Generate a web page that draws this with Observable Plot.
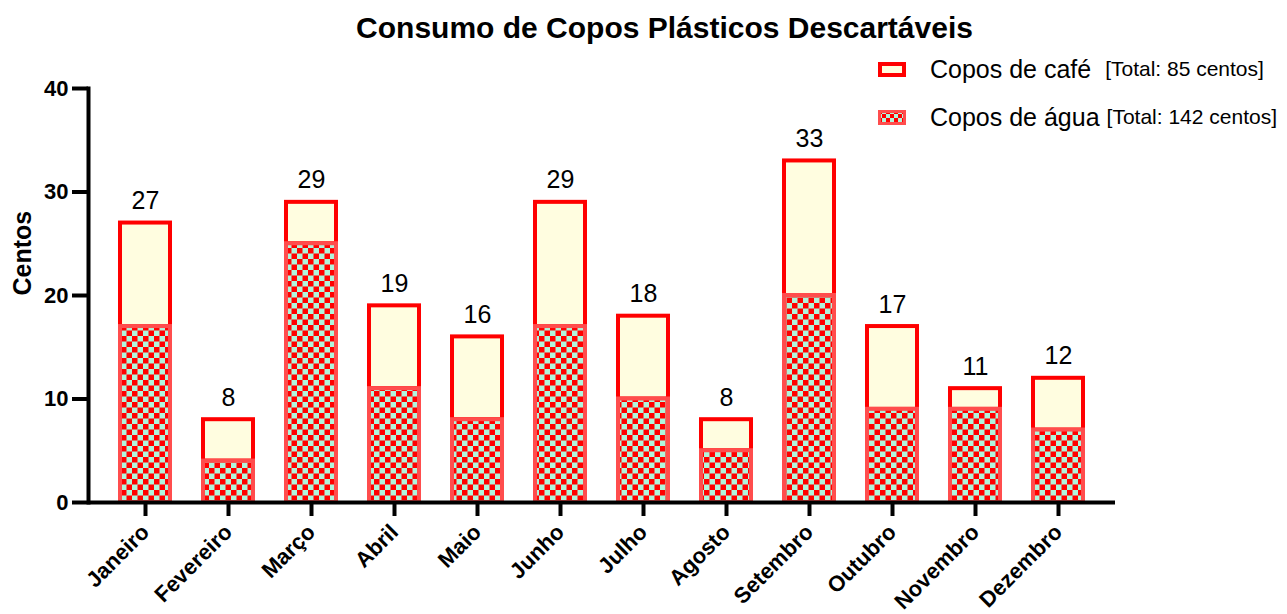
<!DOCTYPE html>
<html>
<head>
<meta charset="utf-8">
<script src="https://cdn.jsdelivr.net/npm/d3@7"></script>
<script src="https://cdn.jsdelivr.net/npm/@observablehq/plot@0.6"></script>
<style>
  html, body { margin: 0; padding: 0; background: #fff; }
  body { width: 1287px; height: 614px; overflow: hidden; font-family: "Liberation Sans", Arial, sans-serif; }
  #title { height: 50px; line-height: 56px; font-size: 30px; font-weight: bold; text-align: center; padding-left: 42px; color: #000; overflow: visible; }
  #wrap { position: relative; width: 1287px; height: 564px; }
  #legend { position: absolute; left: 878px; top: 0px; font-size: 25px; color: #000; }
  .row { position: absolute; white-space: nowrap; display: flex; align-items: center; height: 30px; }
  .small { font-size: 21px; }
</style>
</head>
<body>
<div id="title">Consumo de Copos Plásticos Descartáveis</div>
<div id="wrap">
  <div id="chart"></div>
  <div id="legend">
    <div class="row" style="top:4px;left:0"><svg width="28" height="15" style="margin-right:24px"><rect x="2" y="2" width="24" height="11" fill="#fffde0" stroke="#ff0000" stroke-width="4"/></svg><span>Copos de café</span>&nbsp;&nbsp;<span class="small">[Total: 85 centos]</span></div>
    <div class="row" style="top:52px;left:0"><svg width="28" height="15" style="margin-right:24px"><rect x="1.5" y="1.5" width="25" height="12" fill="url(#checkLeg)" stroke="#ff4d4d" stroke-width="3"/></svg><span>Copos de água</span>&nbsp;<span class="small">[Total: 142 centos]</span></div>
  </div>
</div>
<script>
const months = ["Janeiro","Fevereiro","Março","Abril","Maio","Junho","Julho","Agosto","Setembro","Outubro","Novembro","Dezembro"];
const agua = [17, 4, 25, 11, 8, 17, 10, 5, 20, 9, 9, 7];
const cafe = [10, 4, 4, 8, 8, 12, 8, 3, 13, 8, 2, 5];
const yTicks = [0, 10, 20, 30, 40];

const rows = months.map((m, i) => ({month: m, agua: agua[i], cafe: cafe[i], total: agua[i] + cafe[i]}));

const chart = Plot.plot({
  width: 1287,
  height: 564,
  marginLeft: 88,
  marginRight: 172,
  marginTop: 38,
  marginBottom: 112,
  style: {fontFamily: "'Liberation Sans', Arial, sans-serif", color: "#000", background: "#fff"},
  x: {domain: months, paddingInner: 0.4, paddingOuter: 0.35, label: null},
  y: {domain: [0, 40], label: null},
  marks: [
    Plot.barY(rows, {x: "month", y1: "agua", y2: "total", fill: "#fffde0", stroke: "#ff0000", strokeWidth: 4, inset: 0}),
    Plot.barY(rows, {x: "month", y1: 0, y2: "agua", fill: "url(#checker)", stroke: "#ff4d4d", strokeWidth: 4, inset: 0}),
    Plot.text(rows, {x: "month", y: "total", text: d => String(d.total), dy: -14, lineAnchor: "bottom", fontSize: 25, fill: "#000"}),
    Plot.axisY({ticks: yTicks, tickSize: 16, tickPadding: 4, strokeWidth: 4, fontSize: 22, fontWeight: "bold", label: null}),
    Plot.axisX({tickSize: 14, tickPadding: 12, strokeWidth: 4, fontSize: 22, fontWeight: "bold", tickRotate: -45, label: null}),
    Plot.frame({anchor: "left", strokeWidth: 4, stroke: "#000"}),
    Plot.ruleY([0], {strokeWidth: 4, stroke: "#000"}),
    Plot.text(["Centos"], {frameAnchor: "left", dx: -66, rotate: -90, fontSize: 25, fontWeight: "bold", fill: "#000"})
  ]
});

// checker pattern definitions
const defs = d3.select(chart).insert("defs", ":first-child");
function addPattern(id, s) {
  const p = defs.append("pattern").attr("id", id).attr("patternUnits", "userSpaceOnUse")
    .attr("width", 2 * s).attr("height", 2 * s);
  p.append("rect").attr("width", 2 * s).attr("height", 2 * s).attr("fill", "#b0f5dc");
  p.append("rect").attr("width", s).attr("height", s).attr("fill", "#ff0000");
  p.append("rect").attr("x", s).attr("y", s).attr("width", s).attr("height", s).attr("fill", "#ff0000");
}
addPattern("checker", 5.5);
document.getElementById("chart").appendChild(chart);

// legend pattern (separate small svg)
const legSvg = document.querySelectorAll("#legend svg")[1];
const ld = d3.select(legSvg).insert("defs", ":first-child");
const lp = ld.append("pattern").attr("id", "checkLeg").attr("patternUnits", "userSpaceOnUse").attr("width", 8).attr("height", 8);
lp.append("rect").attr("width", 8).attr("height", 8).attr("fill", "#b0f5dc");
lp.append("rect").attr("width", 4).attr("height", 4).attr("fill", "#ff0000");
lp.append("rect").attr("x", 4).attr("y", 4).attr("width", 4).attr("height", 4).attr("fill", "#ff0000");
</script>
</body>
</html>
